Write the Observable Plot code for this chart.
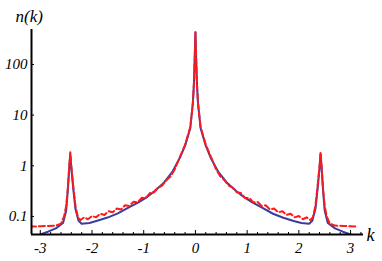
<!DOCTYPE html>
<html>
<head>
<meta charset="utf-8">
<script src="https://cdn.jsdelivr.net/npm/d3@7"></script>
<script src="https://cdn.jsdelivr.net/npm/@observablehq/plot@0.6"></script>
<style>
  html, body { margin: 0; padding: 0; background: #fff; }
  #chart svg { display: block; }
</style>
</head>
<body>
<div id="chart"></div>
<script>
// Blue solid curve
const kBlue = [-3.14, -3.0, -2.85, -2.7, -2.56, -2.5, -2.47, -2.44, -2.42, -2.40, -2.36, -2.32, -2.26, -2.2, -2.05, -1.9, -1.7, -1.5, -1.27, -1.1, -0.94, -0.8, -0.62, -0.45, -0.3, -0.2, -0.1, -0.05, -0.03, -0.015, 0,
  0.015, 0.03, 0.05, 0.1, 0.2, 0.3, 0.45, 0.62, 0.8, 0.94, 1.1, 1.27, 1.5, 1.7, 1.9, 2.05, 2.2, 2.26, 2.32, 2.36, 2.40, 2.42, 2.44, 2.47, 2.5, 2.56, 2.7, 2.85, 3.0, 3.14];
const nBlue = [0.040, 0.044, 0.050, 0.058, 0.074, 0.13, 0.30, 0.9, 1.7, 0.9, 0.33, 0.14, 0.082, 0.072, 0.074, 0.082, 0.095, 0.115, 0.155, 0.19, 0.24, 0.31, 0.45, 0.75, 1.45, 2.5, 5.5, 17, 40, 120, 430,
  120, 40, 17, 5.5, 2.5, 1.4, 0.74, 0.45, 0.31, 0.24, 0.19, 0.152, 0.113, 0.094, 0.081, 0.074, 0.072, 0.082, 0.14, 0.33, 0.9, 1.7, 0.9, 0.30, 0.13, 0.074, 0.058, 0.050, 0.044, 0.040];

// Red dashed curve
const kRed = [-3.2, -3.0, -2.85, -2.7, -2.6, -2.54, -2.5, -2.47, -2.44, -2.42, -2.40, -2.36, -2.32, -2.27, -2.22, -2.15, -2.08, -2.0, -1.92, -1.84, -1.76, -1.68, -1.6, -1.52, -1.44, -1.36, -1.28, -1.2, -1.12, -1.04, -0.96, -0.88, -0.8, -0.72, -0.64, -0.56, -0.48, -0.4, -0.3, -0.2, -0.1, -0.05, -0.03, -0.015, 0,
  0.015, 0.03, 0.05, 0.1, 0.2, 0.3, 0.4, 0.48, 0.56, 0.64, 0.72, 0.8, 0.88, 0.96, 1.04, 1.12, 1.2, 1.28, 1.36, 1.44, 1.52, 1.6, 1.68, 1.76, 1.84, 1.92, 2.0, 2.08, 2.15, 2.22, 2.27, 2.32, 2.36, 2.40, 2.42, 2.44, 2.47, 2.5, 2.54, 2.6, 2.7, 2.85, 3.0, 3.14];
const nRed = [0.063, 0.064, 0.065, 0.066, 0.072, 0.10, 0.16, 0.34, 1.0, 1.85, 1.0, 0.38, 0.16, 0.095, 0.085, 0.096, 0.088, 0.102, 0.096, 0.113, 0.107, 0.127, 0.121, 0.143, 0.137, 0.166, 0.161, 0.194, 0.19, 0.233, 0.23, 0.29, 0.30, 0.37, 0.41, 0.52, 0.62, 0.85, 1.5, 2.6, 5.8, 17, 40, 120, 430,
  120, 40, 17, 5.8, 2.6, 1.5, 0.85, 0.62, 0.52, 0.41, 0.37, 0.30, 0.29, 0.23, 0.233, 0.19, 0.194, 0.161, 0.166, 0.137, 0.143, 0.121, 0.127, 0.107, 0.113, 0.096, 0.102, 0.088, 0.096, 0.085, 0.095, 0.16, 0.38, 1.0, 1.85, 1.0, 0.34, 0.16, 0.10, 0.072, 0.066, 0.065, 0.064, 0.063];

const xTicks = [-3, -2, -1, 0, 1, 2, 3];
const yTicks = [0.1, 1, 10, 100];
const xDomain = [-3.17, 3.25];
const yDomain = [0.044, 490];

const blue = kBlue.map((k, i) => ({k, n: nBlue[i]}));
const red = kRed.map((k, i) => ({k, n: nRed[i]}));
const minorTicks = d3.range(-30, 33, 2).map(v => v / 10).filter(v => Math.abs(v - Math.round(v)) > 1e-9);

const chart = Plot.plot({
  width: 382,
  height: 261,
  marginTop: 29,
  marginBottom: 27,
  marginLeft: 31,
  marginRight: 19,
  style: {fontFamily: "'Liberation Serif', 'DejaVu Serif', serif", fontStyle: "italic", fontSize: "15px", background: "#fff"},
  x: {domain: xDomain},
  y: {type: "log", domain: yDomain},
  marks: [
    Plot.line(blue, {x: "k", y: "n", stroke: "#3b3c9e", strokeWidth: 2, clip: true}),
    Plot.line(red, {x: "k", y: "n", stroke: "#ff1a1a", strokeWidth: 2, strokeDasharray: "6,3", clip: true}),
    Plot.ruleY([yDomain[0]], {stroke: "#000", strokeWidth: 2}),
    Plot.ruleX([xDomain[0]], {stroke: "#000", strokeWidth: 2}),
    Plot.axisX({ticks: minorTicks, tickSize: -2, tickFormat: () => "", label: null, stroke: "#000"}),
    Plot.axisX({ticks: xTicks, tickSize: -4, tickPadding: 12, tickFormat: d => d < 0 ? "-" + Math.abs(d) : String(d), label: null, fontSize: 15}),
    Plot.axisY({ticks: yTicks, tickSize: -3, tickPadding: 7, tickFormat: d => String(d), label: null, fontSize: 15}),
    Plot.text(["n(k)"], {frameAnchor: "top-left", textAnchor: "start", lineAnchor: "top", dx: -16, dy: -20, fontSize: 17}),
    Plot.text(["k"], {frameAnchor: "bottom-right", textAnchor: "start", lineAnchor: "middle", dx: 3, dy: 1, fontSize: 18})
  ]
});
document.getElementById("chart").appendChild(chart);
</script>
</body>
</html>
